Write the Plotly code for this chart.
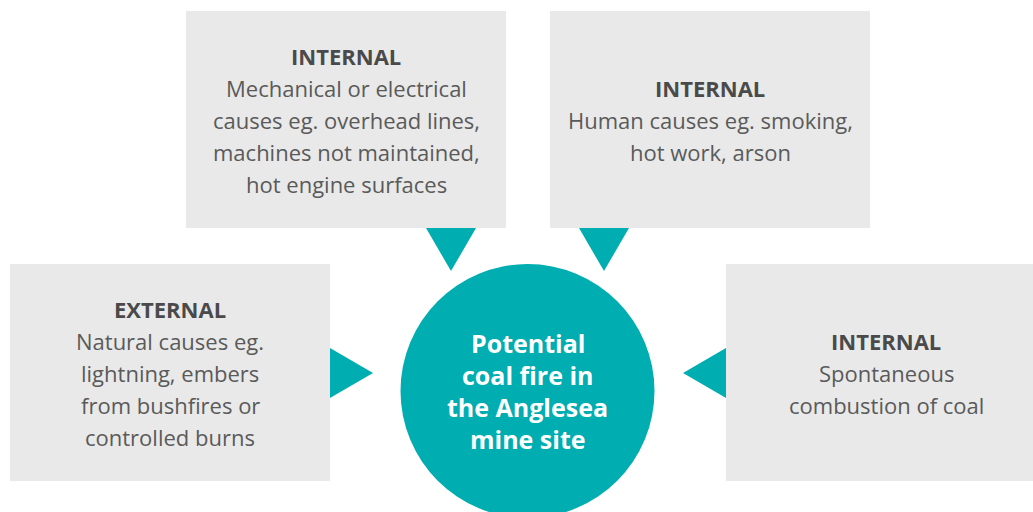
import plotly.graph_objects as go

# ---- content ----
box_titles = ["INTERNAL", "INTERNAL", "EXTERNAL", "INTERNAL"]
box_bodies = [
    ["Mechanical or electrical", "causes eg. overhead lines,", "machines not maintained,", "hot engine surfaces"],
    ["Human causes eg. smoking,", "hot work, arson"],
    ["Natural causes eg.", "lightning, embers", "from bushfires or", "controlled burns"],
    ["Spontaneous", "combustion of coal"],
]
center_lines = ["Potential", "coal fire in", "the Anglesea", "mine site"]

# ---- layout geometry (pixels) ----
W, H = 1033, 512
boxes = [  # x0, y0, x1, y1
    (186, 11, 506, 228),
    (550, 11, 870, 228),
    (10, 264, 330, 481),
    (726, 264, 1046, 481),
]
arrows = [  # base-center x/y, direction
    (451, 228, "down"),
    (604, 228, "down"),
    (330, 373, "right"),
    (726, 373, "left"),
]
circle = (527.5, 391, 127)
BOX_COL = "#e9e9e9"
TEAL = "#00adb1"
TITLE_COL = "#4a4a4a"
BODY_COL = "#5a5a5a"
LINE_H = 32
FONT = "Open Sans"

fig = go.Figure()
shapes = []
for (x0, y0, x1, y1) in boxes:
    shapes.append(dict(type="rect", x0=x0, y0=y0, x1=x1, y1=y1,
                       fillcolor=BOX_COL, line=dict(width=0), layer="below"))
half, depth = 25, 43
for (bx, by, d) in arrows:
    if d == "down":
        p = f"M{bx-half},{by} L{bx+half},{by} L{bx},{by+depth} Z"
    elif d == "right":
        p = f"M{bx},{by-half} L{bx},{by+half} L{bx+depth},{by} Z"
    else:
        p = f"M{bx},{by-half} L{bx},{by+half} L{bx-depth},{by} Z"
    shapes.append(dict(type="path", path=p, fillcolor=TEAL, line=dict(width=0)))
cx, cy, r = circle
shapes.append(dict(type="circle", x0=cx - r, y0=cy - r, x1=cx + r, y1=cy + r,
                   fillcolor=TEAL, line=dict(width=0)))

annotations = []
def add_block(lines, x, yc, first_bold, color_first, color_rest, size, all_bold=False):
    n = len(lines)
    y0 = yc - (n - 1) * LINE_H / 2
    for i, t in enumerate(lines):
        bold = all_bold or (first_bold and i == 0)
        annotations.append(dict(
            x=x, y=y0 + i * LINE_H, xref="x", yref="y", text=t, showarrow=False,
            xanchor="center", yanchor="middle",
            font=dict(family=FONT, size=size, color=color_first if i == 0 else color_rest,
                      weight="bold" if bold else "normal")))

for (x0, y0, x1, y1), title, body in zip(boxes, box_titles, box_bodies):
    lines = [title] + body
    add_block(lines, (x0 + x1) / 2, (y0 + y1) / 2, True, TITLE_COL, BODY_COL, 22)

add_block(center_lines, cx, 391, False, "white", "white", 25, all_bold=True)

fig.update_layout(
    width=W, height=H, margin=dict(l=0, r=0, t=0, b=0),
    paper_bgcolor="white", plot_bgcolor="white",
    xaxis=dict(range=[0, W], visible=False, fixedrange=True),
    yaxis=dict(range=[H, 0], visible=False, fixedrange=True),
    shapes=shapes, annotations=annotations, showlegend=False,
)
fig.write_html("out.html", config=dict(displayModeBar=False),
               post_script="document.body.style.margin='0';document.body.style.overflow='hidden';")
